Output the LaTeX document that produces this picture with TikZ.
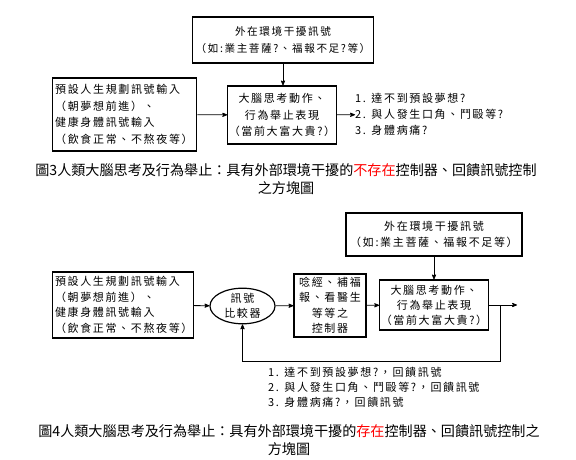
\documentclass[tikz,border=0pt]{standalone}
\usepackage{fontspec}
\setmainfont{Noto Sans CJK TC}
\newfontfamily\diagfont{Noto Sans CJK TC}[LetterSpace=15]
\usepackage{xcolor}
\usetikzlibrary{arrows, positioning, shapes.geometric}

\begin{document}
\begin{tikzpicture}[x=1pt,y=-1pt,>=stealth']
 \tikzstyle{sigbox}=[rectangle,draw=black,line width=1.2pt,
   font=\diagfont\fontsize{11}{16.5}\selectfont,align=center,inner sep=2pt]
 \tikzstyle{listtext}=[font=\diagfont\fontsize{11}{16}\selectfont,
   align=left,inner sep=0pt,anchor=west]
 \tikzstyle{captext}=[font=\fontsize{14.1}{18}\selectfont,align=center]
 \tikzstyle{flow}=[->,line width=0.8pt]
 \useasboundingbox (0,0) rectangle (576,460);

 % Fig. 3
 \node (ext3) [sigbox,minimum width=181pt,minimum height=46pt,
   font=\diagfont\fontsize{10.6}{17}\selectfont] at (283,40)
   {外在環境干擾訊號\\（如:業主菩薩?、福報不足?等）};
 \node (in3) [sigbox,minimum width=144pt,minimum height=73pt,align=left,
   text width=139pt,inner sep=2.5pt] at (124.7,114.5)
   {預設人生規劃訊號輸入\\（朝夢想前進）、\\健康身體訊號輸入\\（飲食正常、不熬夜等）};
 \node (brain3) [sigbox,minimum width=104pt,minimum height=58pt,inner sep=1pt]
   at (282,115)
   {大腦思考動作、\\行為舉止表現\\（當前大富大貴?）};
 \node (list3) [listtext] at (355,114.5)
   {1. 達不到預設夢想?\\2. 與人發生口角、鬥毆等?\\3. 身體病痛?};
 \draw[flow] (ext3) -- (ext3 |- brain3.north);
 \draw[flow] (in3) -- (brain3);
 \draw[flow] (brain3) -- (list3);
 \node (cap3) [captext] at (286,179)
   {圖3人類大腦思考及行為舉止：具有外部環境干擾的\textcolor{red}{不存在}控制器、回饋訊號控制\\之方塊圖};

 % Fig. 4
 \node (ext4) [sigbox,minimum width=176pt,minimum height=43pt,
   font=\diagfont\fontsize{11}{16}\selectfont] at (434,234.5)
   {外在環境干擾訊號\\（如:業主菩薩、福報不足等）};
 \node (in4) [sigbox,minimum width=141pt,minimum height=66pt,align=left,
   text width=136pt,inner sep=2.5pt,font=\diagfont\fontsize{11}{15.7}\selectfont]
   at (123,305)
   {預設人生規劃訊號輸入\\（朝夢想前進）、\\健康身體訊號輸入\\（飲食正常、不熬夜等）};
 \node (cmp4) [ellipse,draw=black,line width=1.2pt,minimum width=65pt,
   minimum height=32pt,inner sep=0pt,align=center,
   font=\diagfont\fontsize{11}{15}\selectfont] at (242.5,306) {訊號\\比較器};
 \node (ctl4) [sigbox,minimum width=72pt,minimum height=63pt,
   font=\diagfont\fontsize{11}{15.5}\selectfont] at (330,305.5)
   {唸經、補福\\報、看醫生\\等等之\\控制器};
 \node (brain4) [sigbox,minimum width=100pt,minimum height=50pt,inner sep=1pt,
   font=\diagfont\fontsize{11}{15}\selectfont] at (434,305)
   {大腦思考動作、\\行為舉止表現\\（當前大富大貴?）};
 \coordinate (split4) at (500,305);
 \coordinate (out4) at (517,305);
 \node (list4) [listtext,font=\diagfont\fontsize{11}{15}\selectfont] at (268,387)
   {1. 達不到預設夢想?，回饋訊號\\2. 與人發生口角、鬥毆等?，回饋訊號\\3. 身體病痛?，回饋訊號};
 \draw[flow] (ext4) -- (ext4 |- brain4.north);
 \draw[flow] (in4) -- (cmp4);
 \draw[flow] (cmp4) -- (ctl4);
 \draw[flow] (ctl4) -- (brain4);
 \draw[flow] (brain4) -- (out4);
 \draw[flow] (split4) -- (500,361) -| (cmp4.south);
 \node (cap4) [captext] at (289,440)
   {圖4人類大腦思考及行為舉止：具有外部環境干擾的\textcolor{red}{存在}控制器、回饋訊號控制之\\方塊圖};
\end{tikzpicture}
\end{document}
